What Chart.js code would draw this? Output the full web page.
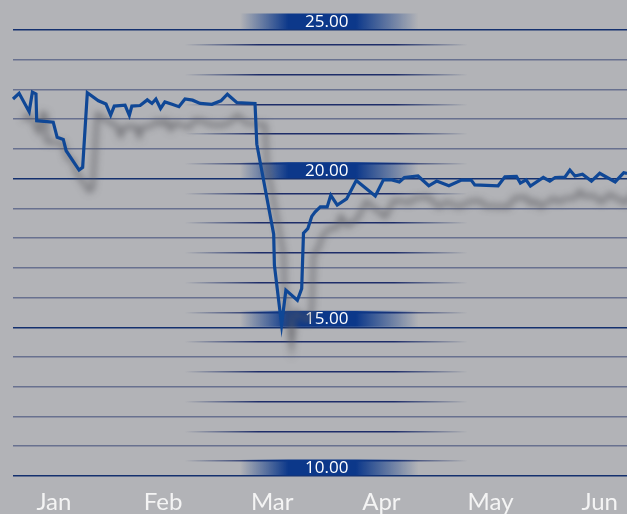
<!DOCTYPE html>
<html>
<head>
<meta charset="utf-8">
<script src="https://cdn.jsdelivr.net/npm/chart.js@4/dist/chart.umd.min.js"></script>
<style>
  html, body { margin: 0; padding: 0; background: #b2b3b7; overflow: hidden; }
  canvas { display: block; }
</style>
</head>
<body>
<canvas id="c" width="627" height="514"></canvas>
<script>
// ---- data (x = days from series start, y = value) ----
const days = [0, 1.7, 4.5, 5.4, 6.4, 6.6, 11.2, 12.3, 14.0, 14.8, 18.4, 19.4, 20.7, 23.8, 25.9, 27.2,
  28.2, 31.2, 32.4, 33.1, 35.4, 37.4, 38.7, 39.8, 41.1, 42.3, 44.3, 46.2, 47.9, 50.0, 52.1, 55.4,
  57.9, 59.7, 62.3, 67.4, 67.9, 72.6, 72.8, 74.8, 76.0, 79.2, 80.4, 80.9, 82.1, 83.2, 84.1, 85.6,
  87.5, 88.5, 90.3, 92.9, 95.6, 100.9, 103.2, 105.5, 107.6, 109.0, 112.8, 115.8, 118.0, 121.4,
  124.9, 127.6, 128.6, 135.1, 137.0, 140.2, 141.3, 142.9, 144.1, 147.7, 149.5, 151.0, 153.7,
  155.1, 156.5, 158.6, 161.1, 163.4, 167.7, 170.1, 171.0];
const values = [22.68, 22.87, 22.25, 22.91, 22.85, 21.95, 21.90, 21.39, 21.32, 20.94, 20.29, 20.38,
  22.89, 22.62, 22.51, 22.14, 22.44, 22.47, 22.13, 22.44, 22.46, 22.65, 22.53, 22.68, 22.36, 22.58,
  22.50, 22.42, 22.68, 22.64, 22.53, 22.50, 22.62, 22.84, 22.56, 22.53, 21.16, 18.13, 17.09, 15.09,
  16.25, 15.91, 16.30, 18.17, 18.32, 18.73, 18.88, 19.05, 19.05, 19.44, 19.11, 19.32, 19.94, 19.42,
  19.97, 19.96, 19.89, 20.04, 20.09, 19.76, 19.92, 19.76, 19.95, 19.95, 19.79, 19.76, 20.06, 20.08,
  19.85, 19.96, 19.75, 20.04, 19.92, 20.04, 20.05, 20.29, 20.09, 20.15, 19.92, 20.18, 19.89, 20.20, 20.18];
const monthLabels = ['Jan', 'Feb', 'Mar', 'Apr', 'May', 'Jun'];
const monthPositions = [11.4, 41.8, 72.2, 102.6, 133.0, 163.4];
const bandValues = [10, 15, 20, 25];
const bandLabels = ['10.00', '15.00', '20.00', '25.00'];

const NAVY = 'rgba(12,56,138,1)';

function hGrad(ctx, area, f0, f1, f2, f3, color) {
  const w = area.right - area.left;
  const g = ctx.createLinearGradient(area.left + w * f0, 0, area.left + w * f3, 0);
  const span = f3 - f0;
  g.addColorStop(0, 'rgba(20,40,100,0)');
  g.addColorStop((f1 - f0) / span, color);
  g.addColorStop((f2 - f0) / span, color);
  g.addColorStop(1, 'rgba(20,40,100,0)');
  return g;
}

const bandPlugin = {
  id: 'bands',
  beforeDatasetsDraw(chart) {
    const { ctx, scales: { y }, chartArea } = chart;
    const w = chartArea.right - chartArea.left;
    ctx.save();
    bandValues.forEach((v, i) => {
      const py = y.getPixelForValue(v);
      const x0 = chartArea.left + w * 0.370, x3 = chartArea.left + w * 0.660;
      const g = ctx.createLinearGradient(x0, 0, x3, 0);
      g.addColorStop(0, 'rgba(12,56,138,0)');
      g.addColorStop(0.27, NAVY);
      g.addColorStop(0.65, NAVY);
      g.addColorStop(1, 'rgba(12,56,138,0)');
      ctx.fillStyle = g;
      ctx.fillRect(x0, py - 16.5, x3 - x0, 16);
      ctx.fillStyle = '#ffffff';
      ctx.font = '17px "Open Sans", Lato, sans-serif';
      ctx.textAlign = 'center';
      ctx.textBaseline = 'middle';
      ctx.fillText(bandLabels[i], chartArea.left + w * 0.511, py - 8);
    });
    ctx.restore();
  }
};

const shadowPlugin = {
  id: 'lineShadow',
  beforeDatasetDraw(chart) {
    const ctx = chart.ctx;
    ctx.save();
    ctx.shadowColor = 'rgba(90,90,95,0.85)';
    ctx.shadowBlur = 7;
    ctx.shadowOffsetX = 10;
    ctx.shadowOffsetY = 21;
  },
  afterDatasetDraw(chart) {
    chart.ctx.restore();
  }
};

new Chart(document.getElementById('c'), {
  type: 'line',
  data: {
    datasets: [{
      data: days.map((d, i) => ({ x: d, y: values[i] })),
      borderColor: '#0f4796',
      borderWidth: 3.2,
      pointRadius: 0,
      tension: 0,
      fill: false,
      clip: { left: 2, top: 30, right: 0, bottom: 30 }
    }]
  },
  options: {
    responsive: false,
    animation: false,
    events: [],
    layout: { padding: { left: 13, top: 30, right: 0, bottom: 0 } },
    plugins: { legend: { display: false }, tooltip: { enabled: false } },
    scales: {
      x: {
        type: 'linear',
        min: 0,
        max: 171,
        grid: { display: false, drawTicks: true, tickLength: 14 },
        border: { display: false },
        afterBuildTicks: axis => { axis.ticks = monthPositions.map(v => ({ value: v })); },
        ticks: {
          autoSkip: false,
          maxRotation: 0,
          padding: 0,
          color: '#f4f4f4',
          font: { family: 'Lato, "Open Sans", sans-serif', size: 24, lineHeight: 1.0 },
          callback: (v, i) => monthLabels[i]
        }
      },
      y: {
        min: 10,
        max: 25,
        border: { display: false },
        ticks: { display: false, stepSize: 0.5, maxTicksLimit: 100 },
        grid: {
          drawTicks: false,
          lineWidth: c => 1.6,
          color: c => {
            const v = c.tick.value;
            const area = c.chart.chartArea;
            if (Math.abs(v - Math.round(v)) > 0.01) {
              if (!area) return 'rgba(0,0,0,0)';
              return hGrad(c.chart.ctx, area, 0.28, 0.40, 0.62, 0.74, 'rgba(30,45,105,1)');
            }
            if (Math.round(v) % 5 === 0) return '#14306e';
            return '#68718f';
          }
        }
      }
    }
  },
  plugins: [bandPlugin, shadowPlugin]
});
</script>
</body>
</html>
